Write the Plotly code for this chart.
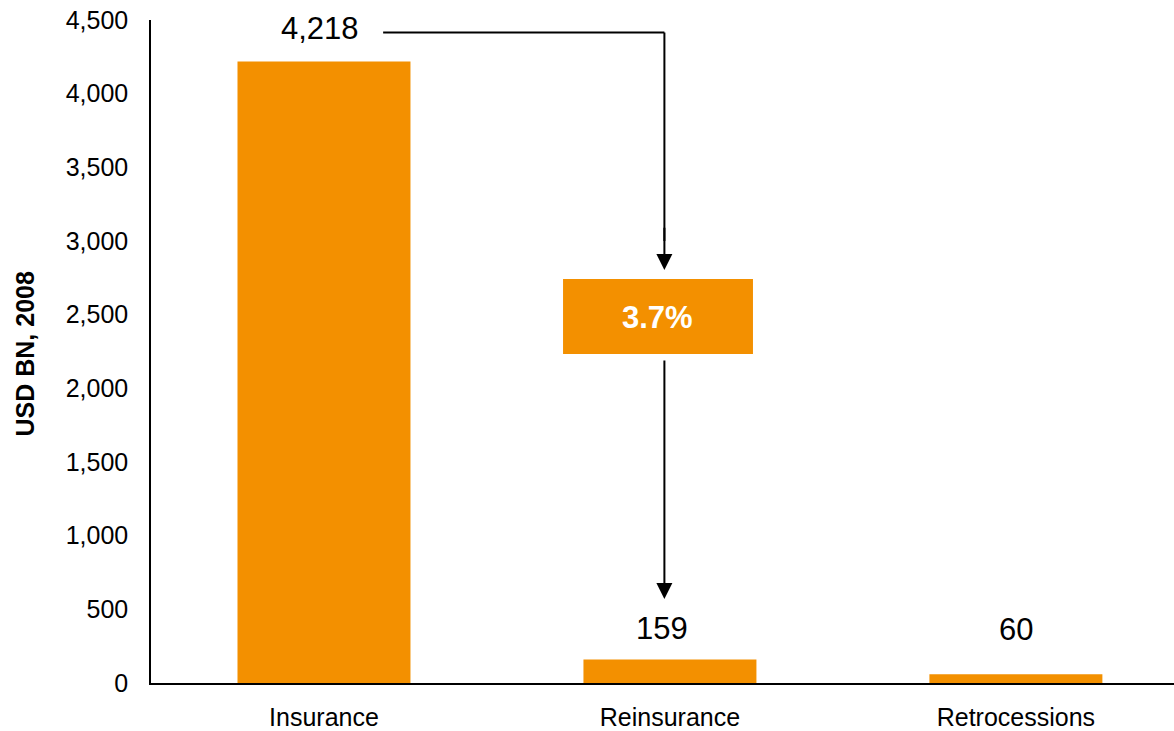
import plotly.graph_objects as go

# Premium volumes, USD BN (2008)
categories = ["Insurance", "Reinsurance", "Retrocessions"]
values = [4218, 159, 60]
value_labels = ["4,218", "159", "60"]
share_label = "3.7%"
y_title = "USD BN, 2008"

y_ticks = [0, 500, 1000, 1500, 2000, 2500, 3000, 3500, 4000, 4500]

ORANGE = "#F39000"
FONT = "Arial, Liberation Sans, sans-serif"

xpos = list(range(len(categories)))

fig = go.Figure()
fig.add_trace(go.Bar(
    x=xpos, y=values, width=0.5,
    marker=dict(color=ORANGE, line=dict(width=0)),
    hoverinfo="skip",
))

# value labels above bars (pixel nudges per label)
label_shift = [(-4, 33), (-8, 31), (0, 45)]
annotations = []
for i, (v, t) in enumerate(zip(values, value_labels)):
    dx, dy = label_shift[i]
    annotations.append(dict(
        x=i, y=v, xref="x", yref="y", text=t, showarrow=False,
        xshift=dx, yshift=dy, yanchor="middle", xanchor="center",
        font=dict(size=31, color="#000000", family=FONT),
    ))

# connector from insurance label down to the ratio box, then to reinsurance
conn_x = 0.984
top_y = 4415
shapes = [
    dict(type="line", xref="x", yref="y", x0=0.171, x1=conn_x, y0=top_y, y1=top_y,
         line=dict(color="#000000", width=2)),
    dict(type="line", xref="x", yref="y", x0=conn_x, x1=conn_x, y0=top_y, y1=3000,
         line=dict(color="#000000", width=2)),
    dict(type="rect", xref="x", yref="y", x0=0.691, x1=1.240, y0=2233, y1=2742,
         fillcolor=ORANGE, line=dict(width=0), layer="above"),
]
annotations.append(dict(
    x=conn_x, y=2803, ax=conn_x, ay=3100, xref="x", yref="y", axref="x", ayref="y",
    text="", showarrow=True, arrowhead=2, arrowsize=1.6, arrowwidth=2,
    arrowcolor="#000000", standoff=0,
))
annotations.append(dict(
    x=conn_x, y=570, ax=conn_x, ay=2199, xref="x", yref="y", axref="x", ayref="y",
    text="", showarrow=True, arrowhead=2, arrowsize=1.6, arrowwidth=2,
    arrowcolor="#000000", standoff=0,
))
annotations.append(dict(
    x=0.965, y=2481, xref="x", yref="y", text="<b>" + share_label + "</b>",
    showarrow=False, font=dict(size=31, color="#FFFFFF", family=FONT),
))
# vertical axis title
annotations.append(dict(
    x=0, y=0.5, xref="paper", yref="paper", xshift=-127, yshift=-3,
    text="<b>" + y_title + "</b>",
    textangle=-90, showarrow=False, xanchor="center", yanchor="middle",
    font=dict(size=25, color="#000000", family=FONT),
))

fig.update_layout(
    width=1174, height=731,
    margin=dict(l=151, r=0, t=20, b=48, autoexpand=False),
    paper_bgcolor="#FFFFFF", plot_bgcolor="#FFFFFF",
    showlegend=False,
    font=dict(family=FONT, color="#000000"),
    shapes=shapes, annotations=annotations,
    xaxis=dict(
        range=[-0.5, 2.457], tickvals=xpos, ticktext=categories,
        showgrid=False, zeroline=False, showline=True, linecolor="#000000",
        linewidth=1.5, ticks="", tickfont=dict(size=25, family=FONT, color="#000000"),
        ticklabelstandoff=11, automargin=False,
    ),
    yaxis=dict(
        range=[0, 4500], tickvals=y_ticks, tickformat=",d",
        showgrid=False, zeroline=False, showline=True, linecolor="#000000",
        linewidth=1.5, ticks="", tickfont=dict(size=25, family=FONT, color="#000000"),
        ticklabelstandoff=16, automargin=False,
    ),
)

fig.write_html("out.html")
